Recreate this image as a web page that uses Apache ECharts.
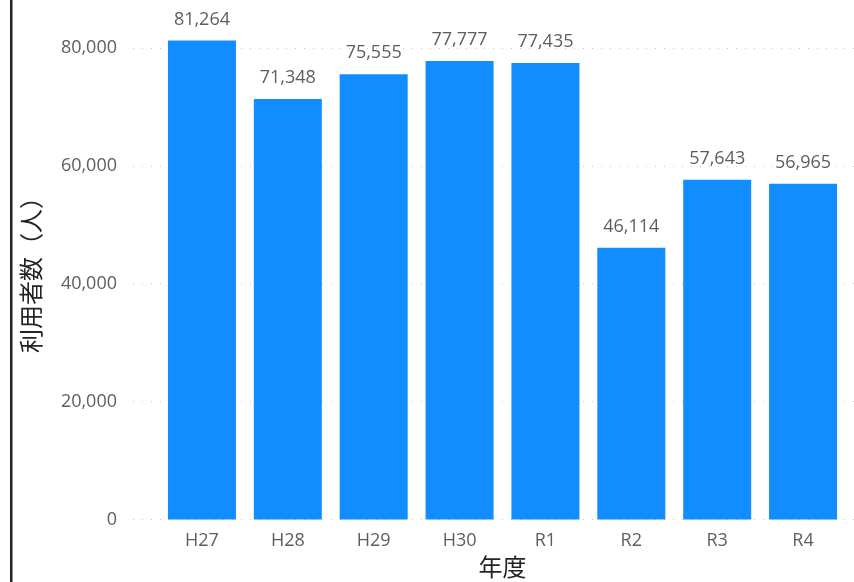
<!DOCTYPE html>
<html><head><meta charset="utf-8">
<script src="https://cdn.jsdelivr.net/npm/echarts@6/dist/echarts.min.js"></script>
<style>html,body{margin:0;padding:0;background:#fff}#c{width:854px;height:582px}</style>
</head><body><div id="c"></div>
<script>
const categories = ['H27','H28','H29','H30','R1','R2','R3','R4'];
const users = [81264, 71348, 75555, 77777, 77435, 46114, 57643, 56965];
const yTicks = [0, 20000, 40000, 60000, 80000];

const chart = echarts.init(document.getElementById('c'));
const FONT = '"Open Sans","Noto Sans","Noto Sans CJK JP",sans-serif';
const gridTop = 18.5, gridBottom = 582 - 519.5;
const yMax = 85000;
chart.setOption({
  animation: false,
  textStyle: {fontFamily: FONT},
  grid: [
    {left: 133, right: 0, top: gridTop, bottom: gridBottom, outerBoundsMode: 'none', containLabel: false},
    {left: 159, right: 8, top: gridTop, bottom: gridBottom, outerBoundsMode: 'none', containLabel: false}
  ],
  xAxis: [
    {gridIndex: 0, type: 'category', data: categories, show: false},
    {gridIndex: 1, type: 'category', data: categories,
     axisLine: {show: false}, axisTick: {show: false},
     axisLabel: {color: '#605E5C', fontSize: 18, margin: 12, fontFamily: FONT},
     name: '年度', nameLocation: 'middle', nameGap: 38,
     nameTextStyle: {color: '#252423', fontSize: 24, fontFamily: FONT}},
  ],
  yAxis: [
    {gridIndex: 0, type: 'value', min: 0, max: yMax, interval: 20000,
     axisLine: {show: false}, axisTick: {show: false},
     axisLabel: {color: '#605E5C', fontSize: 18, margin: 16, showMaxLabel: false,
       fontFamily: FONT,
       formatter: v => yTicks.includes(v) ? v.toLocaleString('en-US') : ''},
     splitLine: {show: true, showMaxLine: false, lineStyle: {color: '#C8C6C4', type: [1, 8], width: 1}},
     name: '利用者数（人）', nameLocation: 'middle', nameGap: 88, nameRotate: 90,
     nameTextStyle: {color: '#252423', fontSize: 24, fontFamily: FONT}},
    {gridIndex: 1, type: 'value', min: 0, max: yMax, show: false, splitLine: {show: false}}
  ],
  series: [{
    type: 'bar', xAxisIndex: 1, yAxisIndex: 1, data: users,
    barWidth: 68,
    itemStyle: {color: '#118DFF'},
    label: {show: true, position: 'top', distance: 12, color: '#605E5C', fontSize: 18,
      fontFamily: FONT, formatter: p => p.value.toLocaleString('en-US')}
  }],
  graphic: [{type: 'rect', shape: {x: 10, y: 0, width: 2.5, height: 582}, style: {fill: '#252423'}}]
});
</script></body></html>
